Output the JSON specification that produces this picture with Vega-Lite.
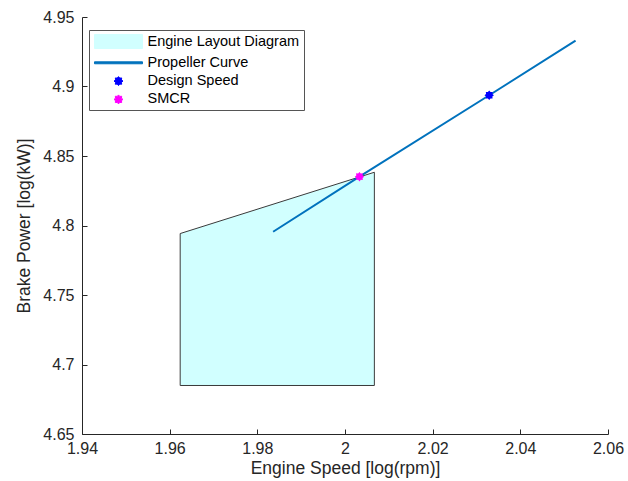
{
  "$schema": "https://vega.github.io/schema/vega-lite/v6.json",
  "width": 526,
  "height": 417,
  "autosize": "none",
  "padding": {"left": 82, "top": 17, "right": 20, "bottom": 47},
  "background": "white",
  "config": {
    "view": {"stroke": null},
    "font": "Liberation Sans",
    "axis": {
      "grid": false,
      "labelFlush": false,
      "labelOverlap": false,
      "domainColor": "#262626",
      "domainWidth": 1,
      "tickColor": "#262626",
      "tickWidth": 1,
      "tickSize": -5,
      "labelColor": "#262626",
      "labelFontSize": 16,
      "titleColor": "#262626",
      "titleFontSize": 17.5,
      "titleFontWeight": "normal",
      "labelFont": "Liberation Sans",
      "titleFont": "Liberation Sans"
    }
  },
  "datasets": {
    "layout": [
      {"series": "Engine Layout Diagram", "x": 1.9624, "y": 4.7942, "y0": 4.6849},
      {"series": "Engine Layout Diagram", "x": 2.0067, "y": 4.8383, "y0": 4.6849}
    ],
    "propeller": [
      {"series": "Propeller Curve", "x": 1.9836, "y": 4.7955},
      {"series": "Propeller Curve", "x": 2.0033, "y": 4.8351},
      {"series": "Propeller Curve", "x": 2.0329, "y": 4.8937},
      {"series": "Propeller Curve", "x": 2.0526, "y": 4.933}
    ],
    "points": [
      {"series": "Design Speed", "x": 2.0329, "y": 4.8937},
      {"series": "SMCR", "x": 2.0033, "y": 4.8351}
    ]
  },
  "encoding": {
    "x": {
      "field": "x",
      "type": "quantitative",
      "scale": {"domain": [1.94, 2.06], "nice": false, "zero": false},
      "axis": {
        "title": "Engine Speed [log(rpm)]",
        "values": [1.94, 1.96, 1.98, 2, 2.02, 2.04, 2.06],
        "labelExpr": "format(datum.value, '.3~g')",
        "labelPadding": 11,
        "titlePadding": 3
      }
    },
    "y": {
      "field": "y",
      "type": "quantitative",
      "scale": {"domain": [4.65, 4.95], "nice": false, "zero": false},
      "axis": {
        "title": "Brake Power [log(kW)]",
        "values": [4.65, 4.7, 4.75, 4.8, 4.85, 4.9, 4.95],
        "labelExpr": "format(datum.value, '.3~g')",
        "labelPadding": 13,
        "titlePadding": 9
      }
    },
    "color": {
      "field": "series",
      "type": "nominal",
      "scale": {
        "domain": ["Engine Layout Diagram", "Propeller Curve", "Design Speed", "SMCR"],
        "range": ["#d1ffff", "#0072bd", "#0000ff", "#ff00ff"]
      },
      "legend": {
        "title": null,
        "orient": "none",
        "legendX": 7,
        "legendY": 13,
        "direction": "vertical",
        "padding": 4,
        "rowPadding": 3.3,
        "strokeColor": "#555555",
        "fillColor": "white",
        "cornerRadius": 0,
        "labelFont": "Liberation Sans",
        "labelFontSize": 14.5,
        "labelColor": "black",
        "labelExpr": "datum.label + '   '",
        "symbolSize": 196,
        "symbolStrokeWidth": 1,
        "symbolOffset": 18,
        "labelOffset": 21.5,
        "encode": {
          "symbols": {
            "update": {
              "shape": {"signal": "datum.value == 'Engine Layout Diagram' ? 'M-3.43,-1H3.43V1H-3.43Z' : datum.value == 'Propeller Curve' ? 'M-3.43,-0.14H3.43V0.14H-3.43Z' : 'M0,-0.64L0.177,-0.426L0.452,-0.452L0.426,-0.177L0.64,0L0.426,0.177L0.452,0.452L0.177,0.426L0,0.64L-0.177,0.426L-0.452,0.452L-0.426,0.177L-0.64,0L-0.426,-0.177L-0.452,-0.452L-0.177,-0.426Z'"},
              "fill": {"signal": "datum.value == 'Engine Layout Diagram' ? '#d1ffff' : datum.value == 'Propeller Curve' ? '#0072bd' : datum.value == 'Design Speed' ? '#0000ff' : '#ff00ff'"},
              "stroke": {"signal": "datum.value == 'Engine Layout Diagram' ? '#3a3a3a' : 'transparent'"},
              "opacity": {"value": 1},
              "fillOpacity": {"value": 1}
            }
          }
        }
      }
    }
  },
  "layer": [
    {
      "data": {"name": "layout"},
      "mark": {"type": "area", "stroke": "#3a3a3a", "strokeWidth": 1, "fillOpacity": 1},
      "encoding": {"y2": {"field": "y0"}}
    },
    {
      "data": {"name": "propeller"},
      "mark": {"type": "line", "strokeWidth": 2}
    },
    {
      "data": {"name": "points"},
      "mark": {"type": "point", "filled": true, "opacity": 1, "size": 90, "shape": "M0,-1L0.276,-0.665L0.707,-0.707L0.665,-0.276L1,0L0.665,0.276L0.707,0.707L0.276,0.665L0,1L-0.276,0.665L-0.707,0.707L-0.665,0.276L-1,0L-0.665,-0.276L-0.707,-0.707L-0.276,-0.665Z"}
    }
  ]
}
